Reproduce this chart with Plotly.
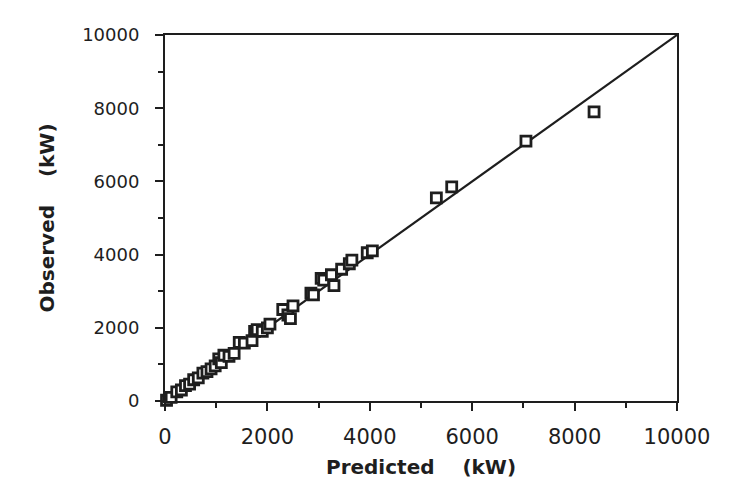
import plotly.graph_objects as go

# Predicted vs observed power (kW)
predicted = [30, 120, 230, 320, 400, 480, 560, 650, 740, 820, 900, 980, 1050, 1100,
             1150, 1250, 1350, 1450, 1550, 1700, 1750, 1800, 1900, 2000, 2050, 2300,
             2400, 2450, 2500, 2850, 2900, 3050, 3100, 3250, 3300, 3450, 3600, 3650,
             3950, 4050, 5300, 5600, 7050, 8380]
observed = [20, 100, 250, 300, 420, 460, 580, 630, 760, 800, 880, 960, 1150, 1050,
            1250, 1220, 1300, 1600, 1580, 1650, 1900, 1950, 1900, 2000, 2100, 2500,
            2350, 2250, 2600, 2950, 2900, 3350, 3300, 3450, 3150, 3600, 3750, 3850,
            4050, 4100, 5550, 5850, 7100, 7900]
line_x = [0, 10000]
line_y = [0, 10000]
tick_vals = [0, 2000, 4000, 6000, 8000, 10000]
tick_text = ["0", "2000", "4000", "6000", "8000", "10000"]

ink = "#1e1e1e"

fig = go.Figure()
fig.add_trace(go.Scatter(x=line_x, y=line_y, mode="lines",
                         line=dict(color=ink, width=2.2), showlegend=False,
                         cliponaxis=False))
fig.add_trace(go.Scatter(x=predicted, y=observed, mode="markers",
                         marker=dict(symbol="square", size=10, color="white",
                                     line=dict(color=ink, width=2.8)),
                         showlegend=False, cliponaxis=False))

axis_common = dict(
    range=[0, 10000], showgrid=False, zeroline=False,
    showline=True, linewidth=2, linecolor=ink, mirror=True,
    ticks="outside", ticklen=8, tickwidth=2, tickcolor=ink,
    tickvals=tick_vals, ticktext=tick_text,
    minor=dict(ticks="outside", ticklen=5, tickwidth=2, tickcolor=ink, dtick=1000,
               showgrid=False),
)

fig.update_layout(
    width=744, height=504,
    margin=dict(l=165, r=67, t=35, b=103, autoexpand=False),
    paper_bgcolor="white", plot_bgcolor="white",
    xaxis=dict(**axis_common,
               tickfont=dict(family="DejaVu Sans", size=21, color=ink),
               ticklabelstandoff=8,
               title=dict(text="Predicted    (kW)", standoff=12,
                          font=dict(family="DejaVu Sans", size=20, color=ink,
                                    weight="bold"))),
    yaxis=dict(**axis_common,
               tickfont=dict(family="DejaVu Sans", size=18, color=ink),
               ticklabelstandoff=12,
               title=dict(text="Observed    (kW)", standoff=22,
                          font=dict(family="DejaVu Sans", size=20, color=ink,
                                    weight="bold"))),
)

fig.write_html("out.html")
